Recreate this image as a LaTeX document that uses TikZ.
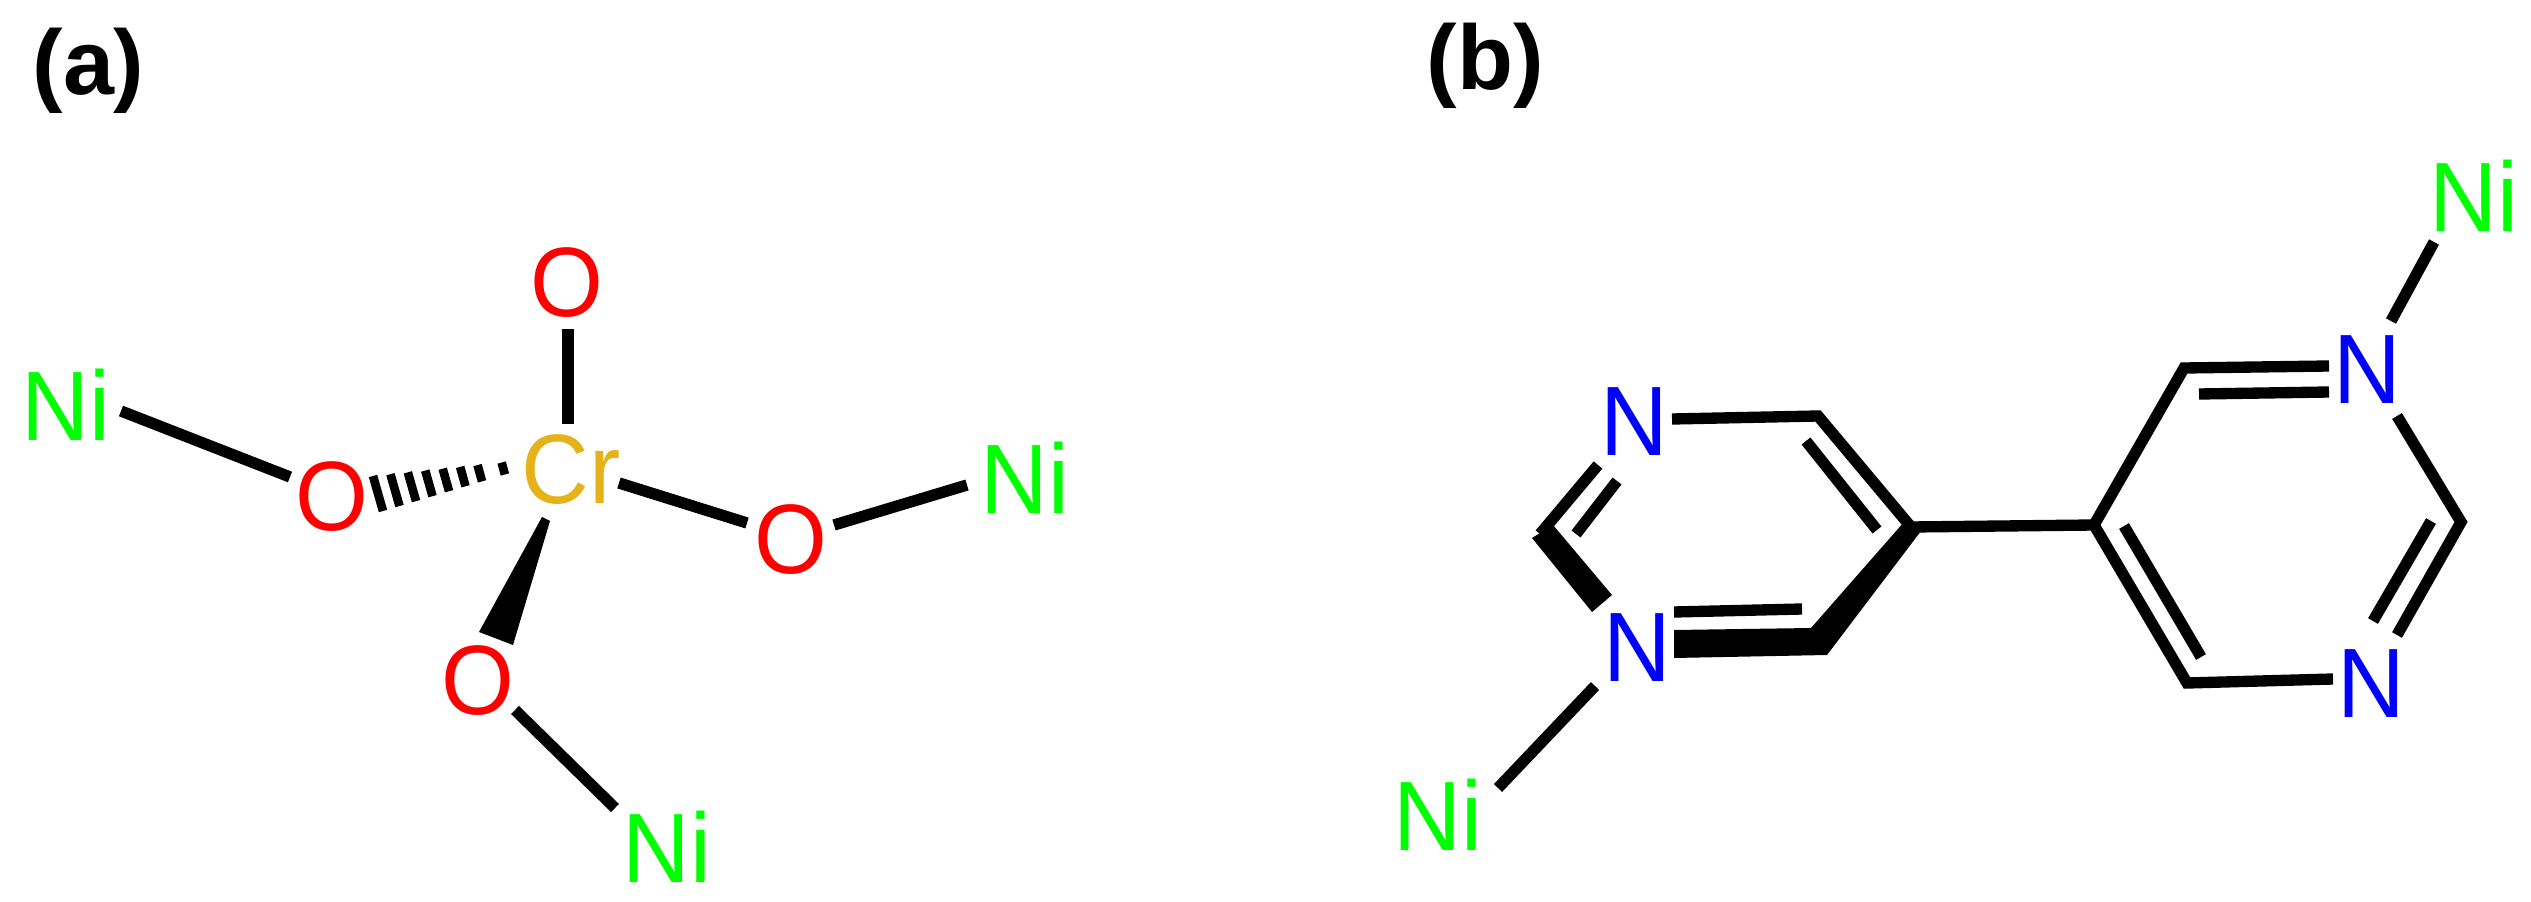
\documentclass[tikz,border=0pt]{standalone}
\usepackage{fontspec}
\usetikzlibrary{calc}
\setmainfont{Liberation Sans}
\newfontfamily\atomfont[FakeStretch=0.95]{Liberation Sans}
\tikzset{
  x=0.3pt,y=-0.3pt,
  atom/.style={inner sep=0pt,outer sep=0pt,font=\atomfont\fontsize{29.6}{30}\selectfont},
  ni/.style={atom,text=nigreen},
  ox/.style={atom,text=red},
  nit/.style={atom,text=blue},
  crm/.style={atom,text=crgold},
  tag/.style={inner sep=0pt,outer sep=0pt,font=\fontsize{27.5}{30}\selectfont\bfseries},
  bond/.style={line width=3.4pt,line cap=butt,line join=miter},
  solidwedge/.style={fill=black,draw=none},
  hashbar/.style={line width=2.6pt,line cap=butt},
}
\definecolor{nigreen}{RGB}{0,255,0}
\definecolor{crgold}{RGB}{230,178,26}
\begin{document}
\begin{tikzpicture}
\useasboundingbox (0,0) rectangle (2531,902);
% labels
\node[tag] (la) at (88.5,71) {(a)};
\node[tag] (lb) at (1485.5,66) {(b)};
% part a atoms
\node[ni] (niA) at (66,405) {Ni};
\node[ox] (oA) at (332,497) {O};
\node[ox] (oT) at (567,283) {O};
\node[crm] (cr) at (571,470) {Cr};
\node[ox] (oR) at (791,540) {O};
\node[ni] (niR) at (1025,478) {Ni};
\node[ox] (oB) at (478,681) {O};
\node[ni] (niB) at (667,847) {Ni};
% part a bond ends
\coordinate (a1) at (121,411); \coordinate (a2) at (290,477);
\coordinate (a3) at (568,329); \coordinate (a4) at (568,424);
\coordinate (a5) at (619,483); \coordinate (a6) at (747,523);
\coordinate (a7) at (834,525); \coordinate (a8) at (967,485);
\coordinate (a9) at (515,710); \coordinate (a10) at (615,808);
\draw[bond] (a1)--(a2);
\draw[bond] (a3)--(a4);
\draw[bond] (a5)--(a6);
\draw[bond] (a7)--(a8);
\draw[bond] (a9)--(a10);
% solid wedge
\coordinate (w1) at (542,517); \coordinate (w2) at (550,521);
\coordinate (w3) at (513,645); \coordinate (w4) at (479,632);
\fill[solidwedge] (w1)--(w2)--(w3)--(w4)--cycle;
% hashed wedge: bars interpolated between the wide and the narrow end
\coordinate (h1) at (373,476); \coordinate (h2) at (383,511);
\coordinate (h3) at (507,462); \coordinate (h4) at (510,473);
\foreach \t in {0,0.13,0.26,0.39,0.52,0.65,0.78,0.96}{
  \draw[hashbar] ($(h1)!\t!(h3)$)--($(h2)!\t!(h4)$);
}
% part b atoms
\node[ni] (niT) at (2474,196) {Ni};
\node[nit] (nA) at (2367,370) {N};
\node[nit] (nB) at (1634,422) {N};
\node[nit] (nC) at (1637,648) {N};
\node[nit] (nD) at (2371,684) {N};
\node[ni] (niL) at (1438,815) {Ni};
% part b bonds
\coordinate (b1) at (2434,242); \coordinate (b2) at (2391,321);
\draw[bond] (b1)--(b2);
\coordinate (b3) at (1672,419); \coordinate (c1) at (1818,416);
\coordinate (c2) at (1911,527); \coordinate (c5) at (2094,525);
\coordinate (c6) at (2184,368); \coordinate (b4) at (2329,366);
\coordinate (b5) at (2397,416); \coordinate (c7) at (2461,522);
\coordinate (b6) at (2397,635); \coordinate (b7) at (2333,679);
\coordinate (c8) at (2187,683);
\draw[bond] (b3)--(c1)--(c2);
\draw[bond] (c2)--(c5);
\draw[bond] (b4)--(c6)--(c5)--(c8)--(b7);
\draw[bond] (b5)--(c7)--(b6);
% inner double-bond lines
\coordinate (i1) at (1806,441); \coordinate (i2) at (1877,530);
\draw[bond] (i1)--(i2);
\coordinate (i3) at (1674,612); \coordinate (i4) at (1802,609);
\draw[bond] (i3)--(i4);
\coordinate (i5) at (1617,481); \coordinate (i6) at (1576,534);
\draw[bond] (i5)--(i6);
\coordinate (i7) at (2199,394); \coordinate (i8) at (2329,392);
\draw[bond] (i7)--(i8);
\coordinate (i9) at (2431,521); \coordinate (i10) at (2373,621);
\draw[bond] (i9)--(i10);
\coordinate (i11) at (2124,526); \coordinate (i12) at (2201,657);
\draw[bond] (i11)--(i12);
% lower-left heavy bonds
\coordinate (t1) at (1674,630); \coordinate (t2) at (1811,628);
\coordinate (t3) at (1904,522); \coordinate (t4) at (1921,531);
\coordinate (t5) at (1827,655); \coordinate (t6) at (1674,658);
\fill[solidwedge] (t1)--(t2)--(t3)--(t4)--(t5)--(t6)--cycle;
\coordinate (u1) at (1553,525); \coordinate (u2) at (1612,595);
\coordinate (u3) at (1592,612); \coordinate (u4) at (1532,538);
\fill[solidwedge] (u1)--(u2)--(u3)--(u4)--cycle;
\coordinate (v1) at (1598,465); \coordinate (v2) at (1540,534);
\draw[bond] (v1)--(v2);
\coordinate (n1) at (1595,686); \coordinate (n2) at (1498,788);
\draw[bond] (n1)--(n2);
\end{tikzpicture}
\end{document}
